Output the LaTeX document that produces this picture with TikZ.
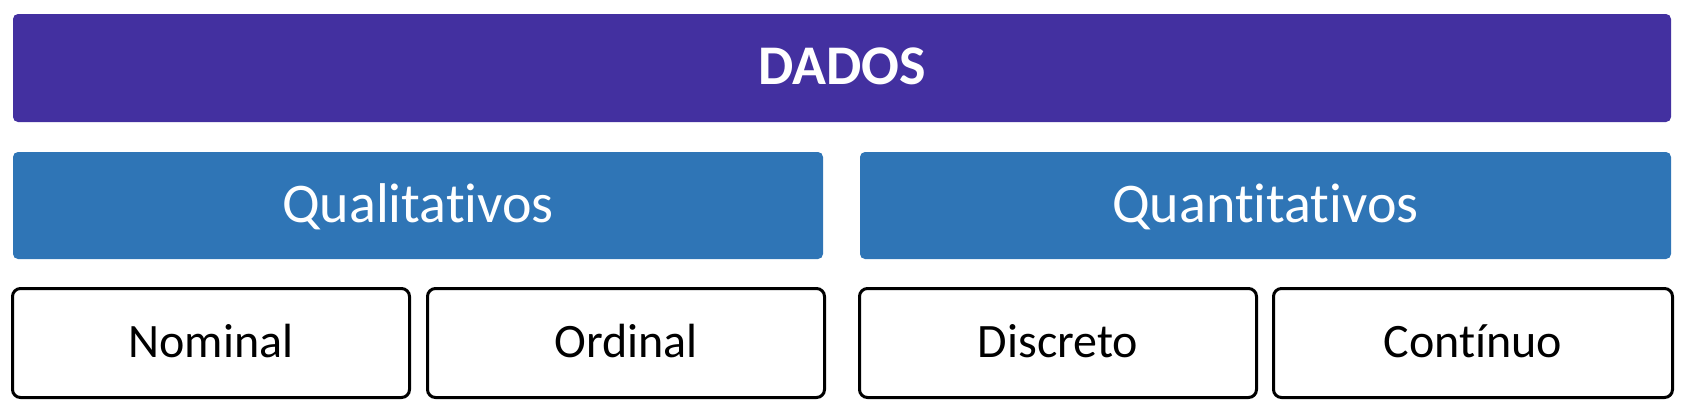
\documentclass[tikz,border=0pt]{standalone}
\usepackage{fontspec}
\setmainfont[Ligatures={NoCommon,TeX}]{Carlito}
\definecolor{dpurple}{RGB}{67,48,160}
\definecolor{dblue}{RGB}{47,117,182}
\begin{document}
\begin{tikzpicture}[x=1pt,y=-1pt,
  top/.style={fill=dpurple,rounded corners=5pt,inner sep=0pt,text=white,
    font=\fontsize{56}{60}\selectfont\bfseries,text height=35pt,text depth=3pt},
  mid/.style={fill=dblue,rounded corners=5pt,inner sep=0pt,text=white,minimum height=107pt,
    font=\fontsize{56}{60}\selectfont,text height=35pt,text depth=2pt},
  leaf/.style={draw=black,line width=3pt,fill=white,rounded corners=8pt,inner sep=0pt,
    minimum width=397pt,minimum height=109pt,
    font=\fontsize{48}{52}\selectfont,text height=30pt,text depth=2pt}]
\useasboundingbox (0,0) rectangle (1687,413);
\node[top,minimum width=1658pt,minimum height=108pt] (dados) at (842,68) {DADOS};
\node[mid,minimum width=810pt] (qual) at (418,205.5) {Qualitativos};
\node[mid,minimum width=811pt] (quant) at (1265.5,205.5) {Quantitativos};
\node[leaf] (nom) at (211,343) {Nominal};
\node[leaf] (ord) at (626,343) {Ordinal};
\node[leaf] (disc) at (1058,343) {Discreto};
\node[leaf,minimum width=399pt] (cont) at (1473,343) {Contínuo};
\end{tikzpicture}
\end{document}
